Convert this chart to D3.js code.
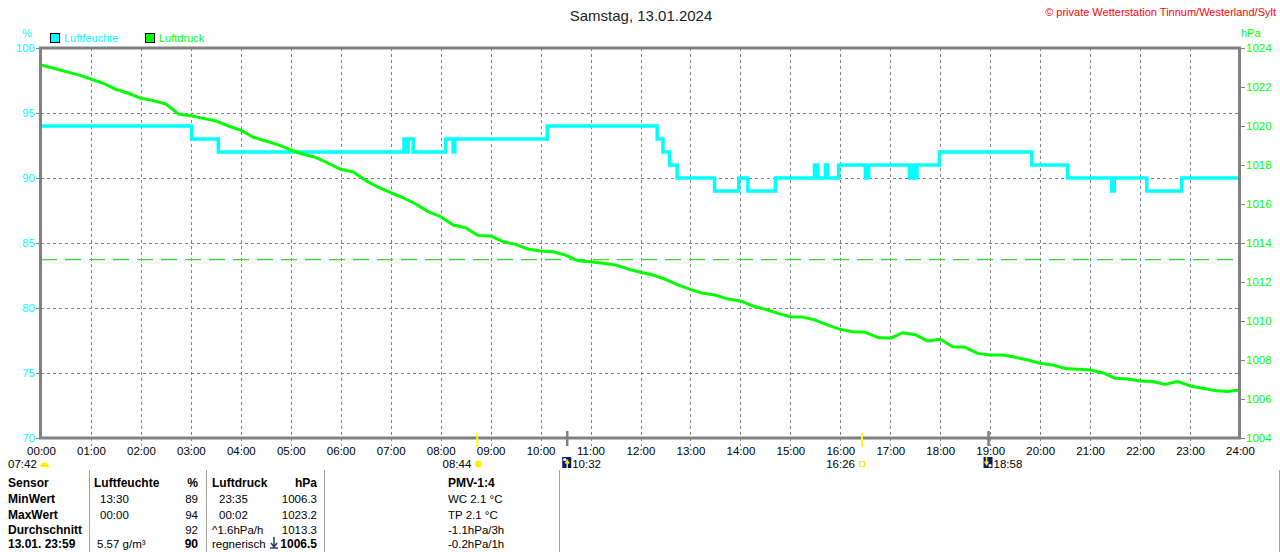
<!DOCTYPE html>
<html><head><meta charset="utf-8">
<script src="https://cdn.jsdelivr.net/npm/d3@7"></script>
<style>
html,body{margin:0;padding:0;background:#fff;}
svg{display:block;font-family:"Liberation Sans",Arial,sans-serif;}
</style></head>
<body>
<svg id="c" width="1280" height="552"></svg>
<script>
// ---------- DATA ----------
const hourLabels = ["00:00","01:00","02:00","03:00","04:00","05:00","06:00","07:00","08:00","09:00","10:00","11:00","12:00","13:00","14:00","15:00","16:00","17:00","18:00","19:00","20:00","21:00","22:00","23:00","24:00"];
const humTicks = [70,75,80,85,90,95,100];
const presTicks = [1004,1006,1008,1010,1012,1014,1016,1018,1020,1022,1024];

// Luftfeuchte (%) step changes: time, value
const humTimes = ["00:00","03:01","03:33","07:16","07:18","07:21","07:27","08:06","08:15","08:17","10:08","12:20","12:27","12:35","12:44","13:29","13:58","14:09","14:42","15:29","15:33","15:42","15:45","15:58","16:30","16:34","17:23","17:26","17:28","17:32","17:59","19:50","20:33","21:26","21:29","22:08","22:50","24:00"];
const humValues = [94,93,92,93,92,93,92,93,92,93,94,93,92,91,90,89,90,89,90,91,90,91,90,91,90,91,90,91,90,91,92,91,90,89,90,89,90,90];

// Luftdruck (hPa) every 15 minutes from 00:00 to 24:00
const presValues = [
1023.13,1022.96,1022.79,1022.62,
1022.41,1022.19,1021.88,1021.68,
1021.42,1021.30,1021.13,1020.62,
1020.53,1020.39,1020.26,1020.00,
1019.79,1019.42,1019.23,1019.03,
1018.77,1018.55,1018.39,1018.09,
1017.78,1017.64,1017.20,1016.86,
1016.58,1016.32,1016.00,1015.61,
1015.35,1014.92,1014.78,1014.38,
1014.36,1014.07,1013.93,1013.69,
1013.59,1013.55,1013.38,1013.09,
1013.04,1012.96,1012.87,1012.67,
1012.50,1012.36,1012.14,1011.85,
1011.62,1011.42,1011.33,1011.13,
1011.03,1010.77,1010.60,1010.39,
1010.22,1010.20,1010.05,1009.79,
1009.57,1009.45,1009.42,1009.16,
1009.11,1009.40,1009.30,1008.97,
1009.06,1008.68,1008.65,1008.34,
1008.26,1008.26,1008.14,1008.00,
1007.83,1007.74,1007.57,1007.53,
1007.49,1007.35,1007.06,1007.03,
1006.92,1006.90,1006.75,1006.90,
1006.67,1006.55,1006.43,1006.38,
1006.46];
const presAvgLine = 1013.15;

// sun / moon events
const sunEvents = [
  {time:"07:42", kind:"dawn"},
  {time:"08:44", kind:"sunrise"},
  {time:"10:32", kind:"moonrise"},
  {time:"16:26", kind:"sunset"},
  {time:"18:58", kind:"moonset"}
];

// table
const tableCol1 = ["Sensor","MinWert","MaxWert","Durchschnitt","13.01. 23:59"];
const tableHumL = ["Luftfeuchte","13:30","00:00","","5.57 g/m³"];
const tableHumR = ["%","89","94","92","90"];
const tablePresL = ["Luftdruck","23:35","00:02","^1.6hPa/h","regnerisch"];
const tablePresR = ["hPa","1006.3","1023.2","1013.3","1006.5"];
const tableExtra = ["PMV-1:4","WC 2.1 °C","TP 2.1 °C","-1.1hPa/3h","-0.2hPa/1h"];

// ---------- DRAW ----------
const svg = d3.select("#c");
const L = 41, R = 1240, T = 48, B = 438;
const toH = s => { const [h,m] = s.split(":").map(Number); return h + m/60; };
const x = d3.scaleLinear().domain([0,24]).range([L,R]);
const yL = d3.scaleLinear().domain([70,100]).range([B,T]);
const yR = d3.scaleLinear().domain([1004,1024]).range([B,T]);
const GRAY = "#808080", CYAN = "#00ffff", GREEN = "#00ff00";

// title & copyright
svg.append("text").attr("x",641).attr("y",21).attr("text-anchor","middle")
  .attr("font-size",15).attr("fill","#222").text("Samstag, 13.01.2024");
svg.append("text").attr("x",1276).attr("y",16).attr("text-anchor","end")
  .attr("font-size",11).attr("fill","#ff0000").text("© private Wetterstation Tinnum/Westerland/Sylt");

// unit labels
svg.append("text").attr("x",22).attr("y",37).attr("font-size",11).attr("fill",CYAN).text("%");
svg.append("text").attr("x",1241).attr("y",37).attr("font-size",11).attr("fill",GREEN).text("hPa");

// legend
const legend = [{name:"Luftfeuchte",c:CYAN,x:50},{name:"Luftdruck",c:GREEN,x:145}];
legend.forEach(d=>{
  svg.append("rect").attr("x",d.x+0.5).attr("y",33.5).attr("width",9).attr("height",9)
    .attr("fill",d.c).attr("stroke","#000").attr("stroke-width",1);
  svg.append("text").attr("x",d.x+14).attr("y",42).attr("font-size",11).attr("fill",d.c).text(d.name);
});

// grid
const grid = svg.append("g");
grid.selectAll("line.v").data(d3.range(1,24)).join("line")
  .attr("x1",d=>Math.round(x(d))+0.5).attr("x2",d=>Math.round(x(d))+0.5)
  .attr("y1",T).attr("y2",B+8)
  .attr("stroke",GRAY).attr("stroke-width",1).attr("stroke-dasharray","3,3");
grid.selectAll("line.h").data(humTicks.filter(v=>v>70 && v<100)).join("line")
  .attr("x1",L).attr("x2",R).attr("y1",d=>Math.round(yL(d))+0.5).attr("y2",d=>Math.round(yL(d))+0.5)
  .attr("stroke",GRAY).attr("stroke-width",1).attr("stroke-dasharray","3,3");

// average pressure dashed line
svg.append("line").attr("x1",L).attr("x2",R).attr("y1",yR(presAvgLine)).attr("y2",yR(presAvgLine))
  .attr("stroke","#33dd33").attr("stroke-width",1.3).attr("stroke-dasharray","16,8");

// axes
const axL = d3.axisLeft(yL).tickValues(humTicks).tickSize(5).tickPadding(1).tickFormat(d3.format("d"));
const gL = svg.append("g").attr("transform",`translate(${L},0)`).call(axL);
gL.select(".domain").remove();
gL.selectAll(".tick line").attr("stroke",GRAY);
gL.selectAll(".tick text").attr("fill",CYAN).attr("font-size",11.5).attr("font-family","Liberation Sans, Arial, sans-serif");

const axR = d3.axisRight(yR).tickValues(presTicks).tickSize(5).tickPadding(1).tickFormat(d3.format("d"));
const gR = svg.append("g").attr("transform",`translate(${R},0)`).call(axR);
gR.select(".domain").remove();
gR.selectAll(".tick line").attr("stroke",GRAY);
gR.selectAll(".tick text").attr("fill",GREEN).attr("font-size",11.5).attr("font-family","Liberation Sans, Arial, sans-serif");

const axB = d3.axisBottom(x).tickValues(d3.range(0,25)).tickSize(0).tickPadding(9).tickFormat((d,i)=>hourLabels[i]);
const gB = svg.append("g").attr("transform",`translate(0,${B})`).call(axB);
gB.select(".domain").remove();
gB.selectAll(".tick text").attr("fill","#000").attr("font-size",11.5).attr("font-family","Liberation Sans, Arial, sans-serif");

// clip
svg.append("clipPath").attr("id","pc").append("rect").attr("x",L).attr("y",T).attr("width",R-L).attr("height",B-T);

// humidity step line
const humData = humTimes.map((t,i)=>({h:toH(t), v:humValues[i]}));
svg.append("path").datum(humData).attr("clip-path","url(#pc)")
  .attr("fill","none").attr("stroke",CYAN).attr("stroke-width",3.5)
  .attr("d", d3.line().x(d=>x(d.h)).y(d=>yL(d.v)).curve(d3.curveStepAfter));

// pressure line
const presData = presValues.map((v,i)=>({h:i*0.25, v}));
svg.append("path").datum(presData).attr("clip-path","url(#pc)")
  .attr("fill","none").attr("stroke",GREEN).attr("stroke-width",3).attr("stroke-linejoin","round")
  .attr("d", d3.line().x(d=>x(d.h)).y(d=>yR(d.v)));

// frame
svg.append("rect").attr("x",L-0.5).attr("y",T).attr("width",R-L).attr("height",B-T)
  .attr("fill","none").attr("stroke",GRAY).attr("stroke-width",3);

// sun / moon markers
sunEvents.forEach(e=>{
  const px = x(toH(e.time));
  if(e.kind==="sunrise"||e.kind==="sunset"){
    svg.append("line").attr("x1",px).attr("x2",px).attr("y1",B-5).attr("y2",B+9).attr("stroke","#ffff00").attr("stroke-width",2);
  } else if(e.kind==="moonrise"||e.kind==="moonset"){
    svg.append("line").attr("x1",px).attr("x2",px).attr("y1",B-7).attr("y2",B+8).attr("stroke",GRAY).attr("stroke-width",2.5);
  }
  const g = svg.append("g");
  if(e.kind==="dawn"){
    g.append("text").attr("x",8).attr("y",468).attr("font-size",11.5).text(e.time);
    g.append("path").attr("d","M40,467 A4.5,4.5 0 0 1 49,467 Z").attr("fill","#ffee00");
  } else if(e.kind==="sunrise"){
    g.append("text").attr("x",px-6).attr("y",468).attr("text-anchor","end").attr("font-size",11.5).text(e.time);
    g.append("circle").attr("cx",px+1).attr("cy",464).attr("r",3.2).attr("fill","#ffee00");
    d3.range(8).forEach(k=>{const a=k*Math.PI/4;
      g.append("line").attr("x1",px+1+Math.cos(a)*4.2).attr("y1",464+Math.sin(a)*4.2)
       .attr("x2",px+1+Math.cos(a)*5.5).attr("y2",464+Math.sin(a)*5.5).attr("stroke","#ffee88").attr("stroke-width",1);});
  } else if(e.kind==="sunset"){
    g.append("text").attr("x",px-7).attr("y",468).attr("text-anchor","end").attr("font-size",11.5).text(e.time);
    g.append("rect").attr("x",px-2.5).attr("y",461.5).attr("width",5).attr("height",5).attr("fill","none").attr("stroke","#ffee00").attr("stroke-width",1);
  } else {
    const ix = px-5;
    g.append("rect").attr("x",ix).attr("y",457).attr("width",9).attr("height",11).attr("fill","#0a1a7a");
    const up = e.kind==="moonrise";
    g.append("circle").attr("cx",up?ix+2.5:ix+6.5).attr("cy",up?459.5:465.5).attr("r",1.6).attr("fill","#fff");
    g.append("path").attr("d", up ? `M${ix+5},468 L${ix+5},461 M${ix+3.2},463.5 L${ix+5},460.5 L${ix+6.8},463.5`
                                    : `M${ix+3},457 L${ix+3},464 M${ix+1.2},461.5 L${ix+3},464.5 L${ix+4.8},461.5`)
      .attr("stroke","#ffee00").attr("stroke-width",1.5).attr("fill","none");
    g.append("text").attr("x",ix+10).attr("y",468).attr("font-size",11.5).text(e.time);
  }
});

// table separators
[89,206,324,559,1279].forEach(sx=>{
  svg.append("line").attr("x1",sx+0.5).attr("x2",sx+0.5).attr("y1",470).attr("y2",552).attr("stroke","#a0a0a0").attr("stroke-width",1);
});

// table text
const rowY = [487,503,519,534,548];
const tt = (xx,yy,s,opt={}) => svg.append("text").attr("x",xx).attr("y",yy).attr("font-size",opt.fs||11.5)
   .attr("font-weight",opt.b?"bold":"normal").attr("text-anchor",opt.a||"start").attr("fill","#000").text(s);
tableCol1.forEach((s,i)=>tt(8,rowY[i],s,{b:true,fs:12}));
tableHumL.forEach((s,i)=>tt(i===0?94:(i===4?97:100),rowY[i],s,{b:i===0,fs:i===0?12:11.5}));
tableHumR.forEach((s,i)=>tt(198,rowY[i],s,{b:i===0||i===4,a:"end",fs:(i===0||i===4)?12:11.5}));
tablePresL.forEach((s,i)=>tt((i===0||i>=3)?212:219,rowY[i],s,{b:i===0,fs:i===0?12:11.5}));
tablePresR.forEach((s,i)=>tt(317,rowY[i],s,{b:i===0||i===4,a:"end",fs:(i===0||i===4)?12:11.5}));
tableExtra.forEach((s,i)=>tt(448,rowY[i],s,{b:i===0,fs:i===0?12:11.5}));
// tendency arrow icon before current pressure
svg.append("path").attr("d","M274,537 L274,546 M271,543 L274,547 L277,543 M270,548 L278,548")
  .attr("stroke","#334466").attr("stroke-width",1.6).attr("fill","none");
</script>
</body></html>
